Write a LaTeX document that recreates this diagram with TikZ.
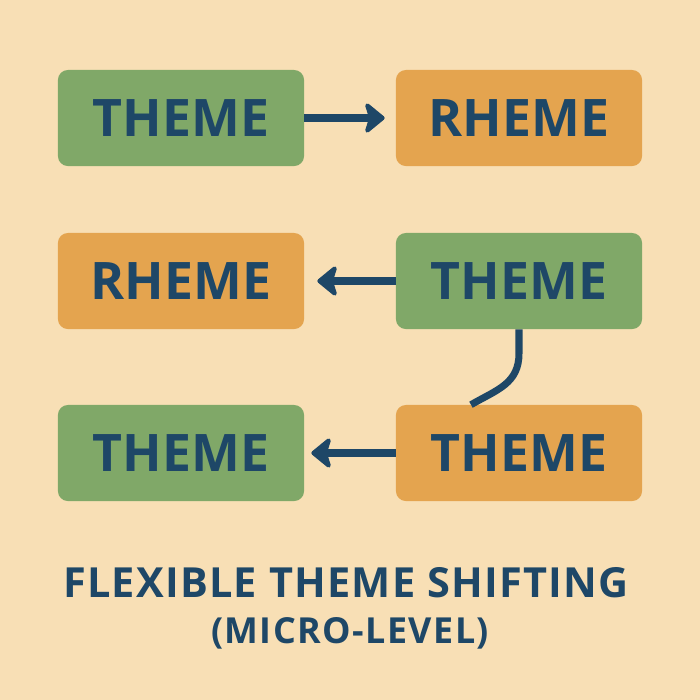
\documentclass[tikz,border=0pt]{standalone}
\usepackage{fontspec}
\setmainfont{Open Sans}
\usetikzlibrary{arrows.meta}
\definecolor{cream}{HTML}{F8DFB5}
\definecolor{themegreen}{HTML}{80A868}
\definecolor{rhemeorange}{HTML}{E4A44F}
\definecolor{navy}{HTML}{1E4767}
\begin{document}
\begin{tikzpicture}[x=0.025cm,y=-0.025cm]
	
	% Style for the boxes
	\tikzstyle{box}=[
	rectangle,
	rounded corners=7pt,
	minimum width=6.15cm,
	minimum height=2.4cm,
	inner sep=0pt,
	text=navy,
	font=\bfseries\fontsize{36.8}{40}\selectfont,
	align=center
	]
	\tikzstyle{theme}=[box, fill=themegreen]
	\tikzstyle{rheme}=[box, fill=rhemeorange]
	\tikzstyle{link}=[line width=5pt, draw=navy, -{Stealth[length=16pt,width=26pt,inset=4pt,round]}]
	
	\fill[cream] (0,0) rectangle (700,700);
	
	% --- First row ---
	\node[theme] (T1) at (181, 118) {THEME};
	\node[rheme] (R1) at (519, 118) {RHEME};
	
	% --- Second row ---
	\node[rheme] (R2) at (181, 281) {RHEME};
	\node[theme] (T2) at (519, 281) {THEME};
	
	% --- Third row ---
	\node[theme] (T3) at (181, 453) {THEME};
	\node[rheme] (TR3) at (519, 453) {THEME};
	
	% --- Title ---
	\node[text=navy, font=\bfseries\fontsize{29.5}{32}\selectfont\addfontfeatures{LetterSpace=3}, anchor=base] (FTS) at (346, 597) {FLEXIBLE THEME SHIFTING};
	\node[text=navy, font=\bfseries\fontsize{25.5}{28}\selectfont\addfontfeatures{LetterSpace=4}, anchor=base] (ML) at (350, 643) {(MICRO-LEVEL)};
	
	\draw[link, shorten >=0.275cm] (T1) -- (R1);
	\draw[link, shorten >=0.325cm] (T2) -- (R2);
	\draw[link, shorten >=0.175cm] (TR3) -- (T3);
	\draw[line width=5pt, draw=navy] (T2.south) -- ++(0,24) to[out=-90,in=30,looseness=1.1] ([xshift=-1.2cm]TR3.north);
\end{tikzpicture}
\end{document}
